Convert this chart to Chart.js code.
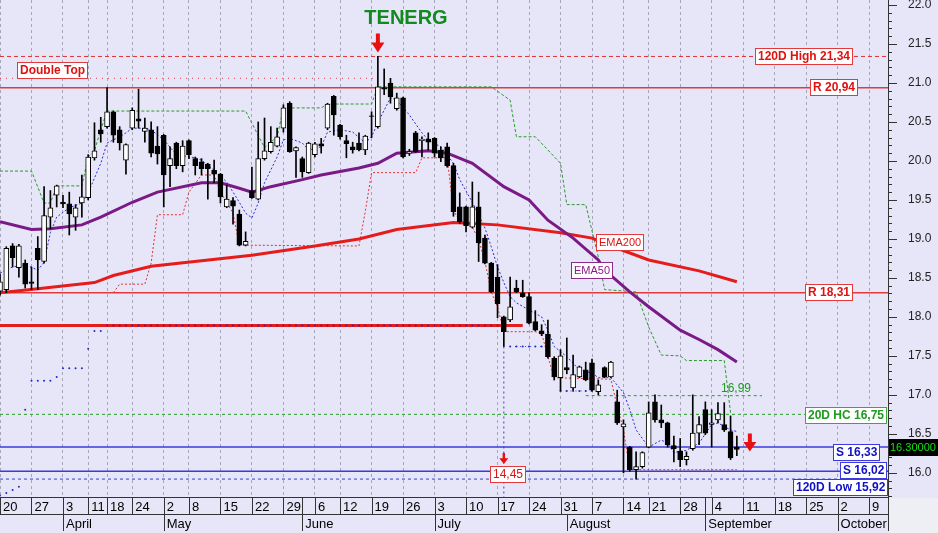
<!DOCTYPE html>
<html><head><meta charset="utf-8">
<script src="https://cdn.jsdelivr.net/npm/chart.js@4.4.0/dist/chart.umd.min.js"></script>
<style>html,body{margin:0;padding:0;background:#e6e6f8;}canvas{display:block;}</style>
</head><body>
<canvas id="c" width="938" height="533"></canvas>
<script>
// ---------- categories (trading days) ----------
const tradingDays = [
  ['2023-03', [20,21,22,23,24,27,28,29,30,31]],
  ['2023-04', [3,4,5,6,11,12,13,18,19,20,21,24,25,26,27,28]],
  ['2023-05', [2,3,4,5,8,9,10,11,12,15,16,17,18,19,22,23,24,25,26,29,30,31]],
  ['2023-06', [1,2,6,7,8,9,12,13,14,15,16,19,20,21,22,23,26,27,28,29,30]],
  ['2023-07', [3,4,5,6,7,10,11,12,13,14,17,18,19,20,21,24,25,26,27,28,31]],
  ['2023-08', [1,2,3,4,7,8,9,10,11,14,16,17,18,21,22,23,24,25,28,29,30,31]],
  ['2023-09', [1,4,5,6,7,8,11,12,13,14,15,18,19,20,21,22,25,26,27,28,29]],
  ['2023-10', [2,3,4,5,6,9,10,11,12]]
];
const dates = [];
tradingDays.forEach(([m, ds]) => ds.forEach(d => dates.push(m + '-' + String(d).padStart(2, '0'))));

// ---------- tick labels ----------
const weekTickDates = ['2023-03-20','2023-03-27','2023-04-03','2023-04-11','2023-04-18','2023-04-24','2023-05-02','2023-05-08','2023-05-15','2023-05-22','2023-05-29','2023-06-06','2023-06-12','2023-06-19','2023-06-26','2023-07-03','2023-07-10','2023-07-17','2023-07-24','2023-07-31','2023-08-07','2023-08-14','2023-08-21','2023-08-28','2023-09-04','2023-09-11','2023-09-18','2023-09-25','2023-10-02','2023-10-09'];
const weekTickLabels = ['20','27','3','11','18','24','2','8','15','22','29','6','12','19','26','3','10','17','24','31','7','14','21','28','4','11','18','25','2','9'];
const extraSeparatorDates = ['2023-06-01','2023-09-01'];
const monthTickDates = ['2023-04-03','2023-05-02','2023-06-01','2023-07-03','2023-08-01','2023-09-01','2023-10-02'];
const monthTickLabels = ['April','May','June','July','August','September','October'];

// ---------- candles (Mar 20 .. Sep 8) ----------
const openP  = [18.33,18.35,18.91,18.63,18.69,18.45,18.88,18.71,19.28,19.56,19.47,19.45,19.28,19.46,19.53,20.04,20.40,20.44,20.63,20.40,20.01,20.42,20.54,20.38,20.40,20.19,20.33,19.94,20.23,19.94,20.26,20.03,19.99,19.96,19.88,19.83,19.41,19.49,19.32,18.92,19.62,19.51,20.03,20.12,20.19,20.42,20.74,20.13,20.03,19.85,20.08,20.22,20.42,20.83,20.46,20.26,20.18,20.23,20.14,20.58,20.44,20.94,21.00,20.67,20.81,20.10,20.36,20.26,20.28,20.29,20.14,20.18,19.94,19.41,19.41,19.15,19.41,19.01,18.69,18.51,18.00,17.96,18.37,18.31,18.26,17.94,17.82,17.78,17.47,17.22,17.35,17.09,17.23,17.32,17.41,17.04,17.35,17.23,16.91,16.59,16.33,16.04,16.08,16.33,16.91,16.68,16.64,16.35,16.28,16.17,16.31,16.51,16.81,16.62,16.68,16.62,16.53,16.33];
const highP  = [18.55,18.90,18.94,18.93,18.73,18.64,19.03,19.67,19.62,19.69,19.56,19.60,19.44,19.82,20.08,20.49,20.56,20.94,20.64,20.44,20.22,20.68,20.92,20.55,20.50,20.44,20.34,20.18,20.24,20.26,20.27,20.05,20.03,19.97,20.01,19.84,19.69,19.53,19.37,19.09,19.92,20.50,20.55,20.44,20.42,20.72,20.76,20.18,20.05,20.24,20.24,20.29,20.74,20.84,20.47,20.33,20.24,20.36,20.33,20.63,21.34,21.18,21.06,20.87,20.82,20.15,20.38,20.31,20.36,20.30,20.18,20.23,19.97,19.59,19.42,19.73,19.60,19.05,18.70,18.67,18.01,18.51,18.47,18.47,18.31,18.08,17.90,17.96,17.49,17.58,17.73,17.51,17.37,17.42,17.46,17.19,17.36,17.43,17.06,16.68,16.34,16.27,16.27,16.91,17.00,16.87,16.65,16.47,16.44,16.27,17.00,16.72,16.91,16.81,16.90,16.90,16.73,16.47];
const lowP   = [18.28,18.31,18.64,18.51,18.37,18.35,18.35,18.69,19.13,19.41,19.40,19.05,19.11,19.28,19.50,20.01,20.24,20.42,20.24,20.14,19.83,20.40,20.42,20.24,20.05,19.96,19.41,19.67,19.90,19.86,20.03,19.82,19.82,19.51,19.72,19.46,19.40,19.19,18.91,18.91,19.52,19.50,20.01,20.10,20.18,20.37,20.11,19.79,19.79,19.84,20.05,20.10,20.40,20.33,20.28,20.04,20.10,20.13,20.08,20.30,20.42,20.85,20.74,20.65,20.04,20.07,20.11,20.05,20.14,20.05,19.99,19.92,19.29,19.20,19.09,19.14,18.71,18.68,18.31,17.99,17.62,17.94,18.31,18.25,17.91,17.82,17.76,17.47,17.19,17.05,17.27,17.06,17.22,17.18,17.05,17.00,17.22,17.22,16.62,16.00,16.02,15.92,16.06,16.32,16.65,16.58,16.33,16.14,16.08,16.10,16.29,16.36,16.49,16.33,16.64,16.53,16.17,16.22];
const closeP = [18.45,18.88,18.76,18.91,18.42,18.43,18.73,19.30,19.40,19.68,19.45,19.32,19.40,19.54,20.05,20.13,20.35,20.63,20.33,20.23,20.21,20.65,20.51,20.42,20.10,20.09,19.82,20.03,19.94,20.19,20.08,19.94,19.90,19.90,19.83,19.54,19.51,19.42,18.92,18.97,19.53,20.03,20.13,20.24,20.31,20.68,20.12,20.17,19.86,20.23,20.22,20.19,20.73,20.59,20.31,20.22,20.14,20.14,20.32,20.57,20.95,20.92,20.82,20.81,20.05,20.12,20.12,20.28,20.24,20.10,20.04,19.94,19.35,19.22,19.17,19.41,18.95,18.69,18.32,18.17,17.81,18.13,18.32,18.26,17.92,17.83,17.78,17.49,17.23,17.50,17.32,17.26,17.36,17.19,17.06,17.13,17.23,17.42,16.64,16.63,16.04,16.08,16.26,16.77,16.68,16.64,16.36,16.31,16.17,16.21,16.51,16.62,16.51,16.64,16.76,16.55,16.19,16.30];

// ---------- indicator lines, read as [dayIndex, value] ----------
const ema200 = [[0,18.31],[6,18.36],[15,18.44],[18,18.53],[24,18.65],[40,18.79],[50,18.91],[57,19.00],[63,19.12],[72,19.21],[79,19.18],[89,19.08],[94,19.01],[98,18.88],[103,18.73],[111,18.59],[117,18.45]];
const ema50 = [[0,19.22],[5,19.12],[8,19.13],[13,19.18],[16,19.28],[21,19.47],[25,19.60],[32,19.72],[35,19.72],[38,19.65],[40,19.60],[43,19.67],[48,19.76],[51,19.82],[57,19.91],[60,19.97],[63,20.10],[68,20.13],[71,20.10],[75,19.97],[80,19.67],[84,19.50],[87,19.24],[91,19.01],[95,18.73],[96,18.60],[100,18.32],[103,18.13],[108,17.83],[111,17.71],[114,17.58],[117,17.42]];
const fastLine = [[0,18.56],[2,18.64],[4,18.67],[6,18.60],[7,18.70],[8,19.08],[9,19.28],[11,19.40],[13,19.46],[14,19.59],[16,19.97],[17,20.23],[19,20.31],[20,20.36],[21,20.42],[23,20.42],[24,20.40],[26,20.27],[28,20.08],[31,20.04],[32,20.01],[34,19.88],[36,19.73],[38,19.47],[39,19.33],[40,19.27],[41,19.46],[42,19.72],[44,20.05],[45,20.27],[46,20.29],[48,20.23],[49,20.14],[51,20.18],[52,20.37],[54,20.40],[56,20.37],[58,20.23],[59,20.31],[60,20.49],[61,20.65],[62,20.81],[63,20.78],[65,20.59],[67,20.36],[68,20.27],[70,20.18],[72,19.97],[73,19.76],[75,19.47],[77,19.14],[78,18.90],[79,18.64],[80,18.44],[81,18.26],[82,18.18],[84,18.09],[86,18.00],[87,17.83],[88,17.62],[90,17.49],[92,17.32],[94,17.28],[95,17.22],[97,17.22],[99,17.03],[100,16.81],[101,16.55],[103,16.33],[105,16.42],[106,16.38],[107,16.26],[109,16.29],[111,16.38],[113,16.62],[114,16.64],[116,16.55],[117,16.53]];
const highChannel = [[0,19.87],[5,19.87],[7,19.46],[8,19.46],[9,19.68],[13,19.68],[14,20.05],[15,20.13],[16,20.40],[17,20.64],[39,20.64],[42,20.17],[43,20.24],[44,20.31],[45,20.68],[51,20.68],[52,20.73],[59,20.73],[60,20.95],[78,20.95],[81,20.78],[82,20.31],[85,20.31],[89,19.97],[90,19.44],[93,19.44],[95,18.77],[96,18.35],[101,18.32],[103,17.87],[105,17.51],[108,17.50],[109,17.44],[115,17.44],[116,16.77]];
const lowChannel = [[18,18.31],[19,18.42],[23,18.42],[24,18.69],[25,19.31],[29,19.31],[30,19.60],[32,19.82],[34,19.82],[35,19.60],[36,19.47],[37,19.33],[38,18.92],[56,18.91],[57,18.91],[58,19.35],[59,19.85],[66,19.85],[67,20.04],[71,20.04],[72,19.37],[73,19.22],[75,19.15],[76,18.99],[77,18.71],[78,18.32],[79,18.13],[80,17.81],[85,17.81],[86,17.79],[87,17.49],[88,17.22],[97,17.20],[98,16.85],[99,16.55],[100,16.04],[117,16.04]];
// trailing stop dots: [firstIndex, lastIndex, value]
const trailSteps = [[0,0,15.71],[1,1,15.74],[2,2,15.78],[3,3,15.82],[4,4,16.81],[5,8,17.18],[9,9,17.23],[10,13,17.34],[14,14,17.59],[15,16,17.82],[17,80,17.89],[81,87,17.62],[89,95,17.05]];

// ---------- levels ----------
const levelHigh120 = 21.34, levelDoubleTop = 21.06, levelR1 = 20.94, levelR2 = 18.31;
const levelBreak = 17.89, levelHC20 = 16.75, levelS1 = 16.33, levelS2 = 16.02, levelLow120 = 15.92;
const levelHC = 16.99, spikeLow = 14.45, spikeIndex = 80, spikeWickEnd = 17.62, peakIndex = 60;
const levelTexts = {high120:'120D High 21,34', r1:'R 20,94', r2:'R 18,31', hc20:'20D HC 16,75', s1:'S 16,33', s2:'S 16,02', low120:'120D Low 15,92'};

// ---------- build ----------
const N = closeP.length;
const last = dates.length - 1;
const pts = arr => arr.map(([i, v]) => ({x: dates[i], y: v}));
const seg = (a, b, v) => [{x: dates[a], y: v}, {x: dates[b], y: v}];
const trailPts = [];
trailSteps.forEach(([a, b, v]) => { for (let i = a; i <= b; i++) trailPts.push({x: dates[i], y: v}); });
const wicks = lowP.map((l, i) => [l, highP[i]]);
const bodies = openP.map((o, i) => [o, closeP[i]]);

function lineDS(data, color, width, dash, order) {
  return {type: 'line', data, borderColor: color, borderWidth: width, borderDash: dash || [],
    pointRadius: 0, pointHoverRadius: 0, fill: false, tension: 0, order, borderCapStyle: 'butt'};
}

const weekIdx = {};
weekTickDates.forEach((d, k) => { weekIdx[dates.indexOf(d)] = weekTickLabels[k]; });
const monthIdx = {};
monthTickDates.forEach((d, k) => { monthIdx[dates.indexOf(d)] = monthTickLabels[k]; });

const FONT = 'Arial, "Liberation Sans", sans-serif';

function arrowDown(ctx, x, tipY, h, hw, sw, color) {
  const hh = h * 0.52;
  ctx.fillStyle = color;
  ctx.beginPath();
  ctx.moveTo(x - sw, tipY - h); ctx.lineTo(x + sw, tipY - h); ctx.lineTo(x + sw, tipY - hh);
  ctx.lineTo(x + hw, tipY - hh); ctx.lineTo(x, tipY); ctx.lineTo(x - hw, tipY - hh);
  ctx.lineTo(x - sw, tipY - hh); ctx.closePath(); ctx.fill();
}
function box(ctx, text, xRight, yCenter, border, color, font, xLeft) {
  ctx.font = font;
  const w = Math.round(ctx.measureText(text).width) + 5, h = 16;
  const x = (xLeft !== undefined ? Math.round(xLeft) : Math.round(xRight - w)) + 0.5;
  const y = Math.round(yCenter - h / 2) + 0.5;
  ctx.fillStyle = '#ffffff'; ctx.fillRect(x, y, w, h);
  ctx.strokeStyle = border; ctx.lineWidth = 1; ctx.strokeRect(x, y, w, h);
  ctx.fillStyle = color; ctx.textAlign = 'left'; ctx.textBaseline = 'middle';
  ctx.fillText(text, x + 2.5, y + h / 2 + 0.5);
}

const deco = {
  id: 'deco',
  beforeDraw(chart) {
    const {ctx, width, height, chartArea: ca} = chart;
    ctx.save();
    ctx.fillStyle = '#e6e6f8'; ctx.fillRect(0, 0, width, height);
    ctx.fillStyle = '#eeeef5'; ctx.fillRect(ca.right + 1, ca.bottom + 1, width, height);
    ctx.restore();
  },
  afterDraw(chart) {
    const {ctx, height, chartArea: ca} = chart;
    const xs = chart.scales.x, ys = chart.scales.y;
    const X = i => xs.getPixelForValue(i), Y = v => ys.getPixelForValue(v);
    ctx.save();
    const ln = (x1, y1, x2, y2) => { ctx.beginPath(); ctx.moveTo(x1, y1); ctx.lineTo(x2, y2); ctx.stroke(); };
    // bottom date grid
    ctx.strokeStyle = '#333'; ctx.lineWidth = 1;
    const yTop = ca.bottom + 0.5, yMid = ca.bottom + 17.5, yBot = height - 2;
    ln(0, yTop, ca.right, yTop); ln(0, yMid, ca.right, yMid);
    weekTickDates.concat(extraSeparatorDates).forEach(d => { const x = Math.round(X(dates.indexOf(d))) + 0.5; ln(x, yTop, x, yMid); });
    monthTickDates.forEach(d => { const x = Math.round(X(dates.indexOf(d))) + 0.5; ln(x, yMid, x, yBot); });
    ln(ca.right + 0.5, 0, ca.right + 0.5, yBot);
    // y axis tick marks
    ys.ticks.forEach(t => {
      const k = Math.round(t.value * 10);
      if (Math.abs(t.value * 10 - k) > 1e-6) return;
      const len = (k % 5 === 0) ? 9 : 4;
      const y = Math.round(Y(t.value)) + 0.5;
      ln(ca.right, y, ca.right + len, y);
    });
    // title
    ctx.font = 'bold 20px ' + FONT; ctx.fillStyle = '#138a1f'; ctx.textAlign = 'center'; ctx.textBaseline = 'middle';
    ctx.fillText('TENERG', 406, 18);
    // level labels
    const bf = 'bold 12px ' + FONT;
    const RED = '#e01010', REDB = '#e23a3a', BLUE = '#1010c8', BLUEB = '#3a3ae0', GRN = '#1f9a1f', GRNB = '#3aa83a';
    box(ctx, levelTexts.high120, 852, Y(levelHigh120) - 0.5, REDB, RED, bf);
    box(ctx, levelTexts.r1, 857, Y(levelR1) - 1, REDB, RED, bf);
    box(ctx, levelTexts.r2, 852, Y(levelR2) - 1, REDB, RED, bf);
    box(ctx, levelTexts.hc20, 886, Y(levelHC20) + 1, GRNB, GRN, bf);
    box(ctx, levelTexts.s1, 879, Y(levelS1) + 5, BLUEB, BLUE, bf);
    box(ctx, levelTexts.s2, 886, Y(levelS2) - 1, BLUEB, BLUE, bf);
    box(ctx, levelTexts.low120, 887, Y(levelLow120) + 8, BLUEB, BLUE, bf);
    box(ctx, 'Double Top', 0, 69.5, REDB, RED, bf, 17);
    box(ctx, 'EMA200', 643, 241.5, REDB, RED, '11px ' + FONT);
    box(ctx, 'EMA50', 612, 269.5, '#8b2a8b', '#8b1a8b', '11px ' + FONT);
    box(ctx, String(spikeLow).replace('.', ','), 525, 473.5, REDB, RED, '12px ' + FONT);
    ctx.font = '12px ' + FONT; ctx.fillStyle = GRN; ctx.textAlign = 'left'; ctx.textBaseline = 'alphabetic';
    ctx.fillText(String(levelHC).replace('.', ','), 721, 392);
    // arrows
    arrowDown(ctx, X(peakIndex), Y(highP[peakIndex]) - 4, 19, 6.5, 2, '#e81010');
    arrowDown(ctx, X(N - 1) + 13, Y(closeP[N - 1]) + 2, 18, 6.5, 2, '#e81010');
    arrowDown(ctx, X(spikeIndex), 464, 11, 4.5, 1.2, '#e81010');
    // last price tag
    const ty = Math.round(Y(closeP[N - 1]) - 2);
    ctx.fillStyle = '#000'; ctx.fillRect(889, ty - 8, 49, 17);
    ctx.font = '11px ' + FONT; ctx.fillStyle = '#10e010'; ctx.textAlign = 'left'; ctx.textBaseline = 'middle';
    ctx.fillText(closeP[N - 1].toFixed(5), 890, ty + 1);
    ctx.restore();
  }
};

new Chart(document.getElementById('c'), {
  type: 'bar',
  data: {
    labels: dates,
    datasets: [
      {type: 'bar', data: bodies, order: 0, grouped: false, barThickness: 5, borderWidth: 1, borderSkipped: false,
        borderColor: '#000', backgroundColor: ctx => (closeP[ctx.dataIndex] >= openP[ctx.dataIndex] ? '#ffffff' : '#000000')},
      {type: 'bar', data: wicks, order: 1, grouped: false, barThickness: 1, borderWidth: 0, backgroundColor: '#000'},
      lineDS(pts(ema50), '#7a1a86', 3, [], 2),
      lineDS(pts(ema200), '#e61c1c', 3, [], 3),
      lineDS(pts(fastLine), '#2b2bd6', 1, [2, 2], 4),
      lineDS(pts(highChannel), '#2a9a2a', 1, [3, 2], 5),
      lineDS(pts(lowChannel), '#e23030', 1, [2, 2], 5),
      {type: 'line', data: trailPts, showLine: false, pointRadius: 1, pointHoverRadius: 0, pointBorderWidth: 0,
        pointBackgroundColor: '#2626c0', order: 6},
      lineDS(seg(0, last, levelHigh120), '#e03030', 1, [4, 3], 7),
      lineDS(seg(0, peakIndex, levelDoubleTop), '#e04040', 1, [1, 5], 7),
      lineDS(seg(0, last, levelR1), '#e23a3a', 1.5, [], 7),
      lineDS(seg(0, last, levelR2), '#e23a3a', 1.5, [], 7),
      lineDS(seg(0, 83, levelBreak), '#e41e1e', 3, [], 8),
      lineDS(seg(81, 87, spikeWickEnd), '#3a3ad8', 1, [1, 4], 7),
      lineDS(seg(89, 95, 17.05), '#3a3ad8', 1, [1, 4], 7),
      lineDS([{x: dates[spikeIndex], y: spikeWickEnd}, {x: dates[spikeIndex], y: spikeLow}], '#3a3ad8', 1, [2, 3], 7),
      lineDS(seg(93, 121, levelHC), '#2a9a2a', 1, [3, 3], 7),
      lineDS(seg(0, last, levelHC20), '#2a9a2a', 1, [3, 3], 7),
      lineDS(seg(0, last, levelS1), '#3a3ae0', 1.5, [], 7),
      lineDS(seg(0, last, levelS2), '#3a3ae0', 1.5, [], 7),
      lineDS(seg(0, last, levelLow120), '#3a3ae0', 1, [3, 3], 7)
    ]
  },
  options: {
    responsive: false, animation: false, devicePixelRatio: 1,
    layout: {padding: 0, autoPadding: false},
    plugins: {legend: {display: false}, tooltip: {enabled: false}},
    events: [],
    scales: {
      x: {
        type: 'category', position: 'bottom', offset: false, weight: 1,
        grid: {display: true, drawOnChartArea: true, drawTicks: false, lineWidth: 1, offset: false,
          color: ctx => (weekIdx[ctx.index] !== undefined ? '#a6a6b8' : 'rgba(0,0,0,0)')},
        border: {display: false, dash: [3, 3]},
        ticks: {autoSkip: false, maxRotation: 0, minRotation: 0, align: 'start', labelOffset: 3, padding: 3,
          color: '#000', font: {family: FONT, size: 13},
          callback: (v, i) => (weekIdx[i] !== undefined ? weekIdx[i] : '')},
        afterFit: s => { s.height = 17; s.paddingLeft = 0; s.paddingRight = 0; }
      },
      xm: {
        type: 'category', position: 'bottom', offset: false, weight: 2,
        grid: {display: false, drawTicks: false}, border: {display: false},
        ticks: {autoSkip: false, maxRotation: 0, minRotation: 0, align: 'start', labelOffset: 3, padding: 3,
          color: '#000', font: {family: FONT, size: 13},
          callback: (v, i) => (monthIdx[i] !== undefined ? monthIdx[i] : '')},
        afterFit: s => { s.height = 19; s.paddingLeft = 0; s.paddingRight = 0; }
      },
      y: {
        type: 'linear', position: 'right', min: 15.69, max: 22.064,
        grid: {display: false, drawTicks: false}, border: {display: false},
        ticks: {stepSize: 0.1, includeBounds: false, autoSkip: false, padding: 20, color: '#222', font: {family: FONT, size: 12},
          callback: v => (Math.abs(v * 2 - Math.round(v * 2)) < 1e-6 ? v.toFixed(1) : '')},
        afterFit: s => { s.width = 50; s.paddingTop = 0; s.paddingBottom = 0; }
      }
    }
  },
  plugins: [deco]
});
</script>
</body></html>
